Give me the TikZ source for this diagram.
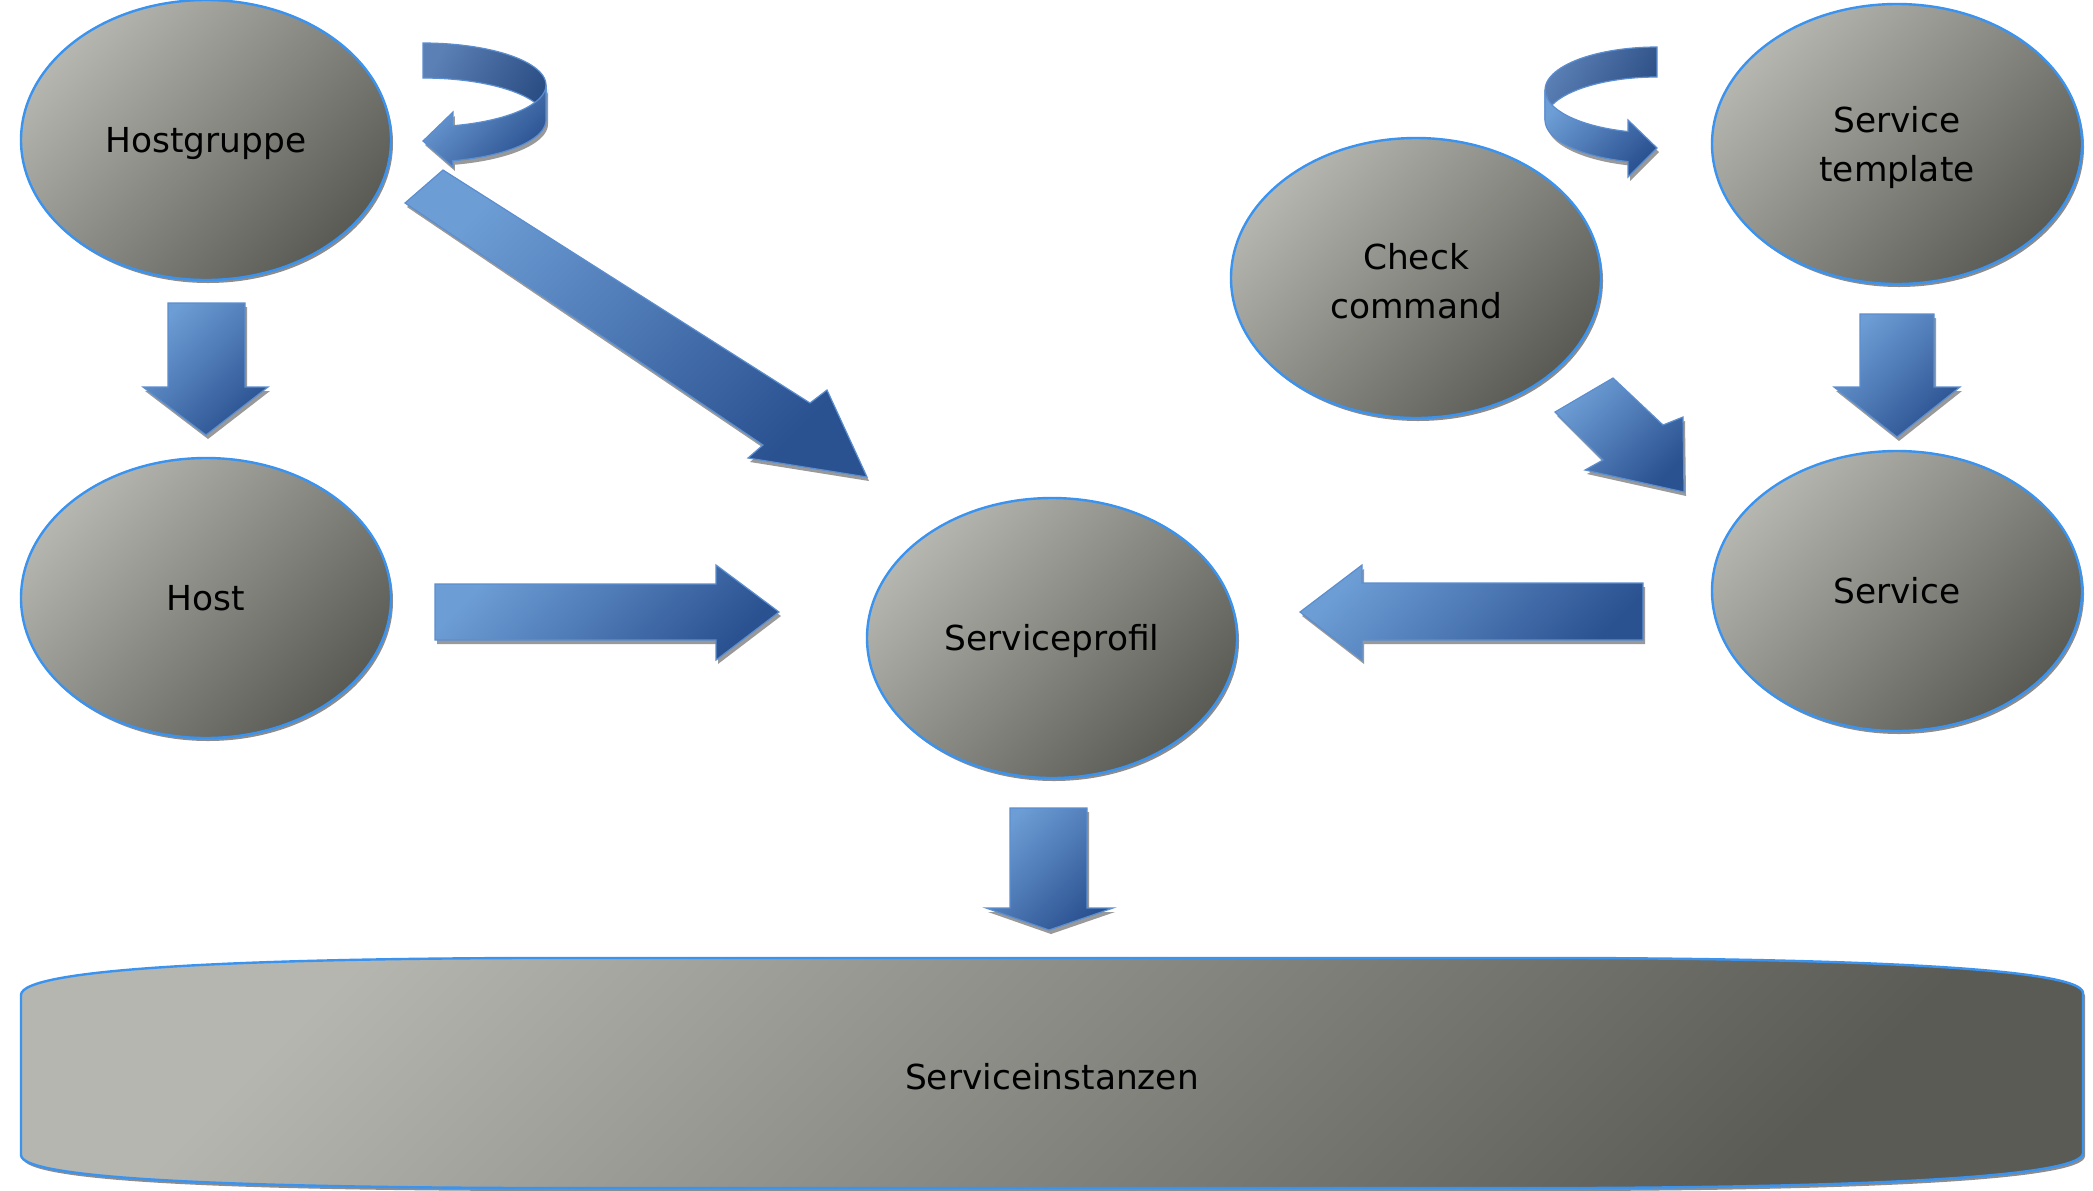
\documentclass[tikz,border=0pt]{standalone}
\usepackage{fontspec}
\setmainfont{DejaVu Sans}
\usetikzlibrary{shapes.geometric,shadows}
\definecolor{ellLight}{HTML}{B4B6AF}
\definecolor{ellDark}{HTML}{595B54}
\definecolor{ellLine}{HTML}{3B93F0}
\definecolor{arrLight}{HTML}{6D9DD5}
\definecolor{arrDark}{HTML}{2A5190}
\definecolor{arrLine}{HTML}{5B8ED0}
\definecolor{backLight}{HTML}{5B80B6}
\definecolor{backDark}{HTML}{2B4E84}
\begin{document}
\begin{tikzpicture}[x=0.5pt,y=-0.5pt,
        obj/.style={ellipse,draw=ellLine,line width=1.2pt,minimum width=185pt,minimum height=140pt,
            inner sep=0pt,align=center,top color=ellLight,bottom color=ellDark,shading angle=45,
            drop shadow={shadow xshift=1pt,shadow yshift=-1.5pt,fill=black!45,opacity=1},
            font=\fontsize{17.2}{24.5}\selectfont,text height=14pt,text depth=2pt},
        twolines/.style={text height=,text depth=},
        blockarrow/.style={draw=arrLine,line width=0.6pt,top color=arrLight,bottom color=arrDark,shading angle=45,
            drop shadow={shadow xshift=1pt,shadow yshift=-2pt,fill=black!40,opacity=1}},
        backband/.style={draw=arrLine,line width=0.6pt,top color=backLight,bottom color=backDark,shading angle=60}]
    \useasboundingbox (0,0) rectangle (2093,1190);
    % objects
    \node[obj] (hostgruppe) at (206,140) {Hostgruppe};
    \node[obj] (host) at (206,598) {Host};
    \node[obj] (profil) at (1052,638) {Serviceprofil};
    \node[obj,twolines] (check) at (1416,278) {\rule{0pt}{16.5pt}Check\\command};
    \node[obj,twolines] (template) at (1897,144) {\rule{0pt}{16.5pt}Service\\template};
    \node[obj] (service) at (1897,591) {Service};
    % instances
    \draw[draw=ellLine,line width=1.2pt,top color=ellLight,bottom color=ellDark,shading angle=45,
            drop shadow={shadow xshift=1pt,shadow yshift=-1.5pt,fill=black!45,opacity=1}]
        (21,995) .. controls (21,968) and (250,959) .. (520,958) -- (1580,958)
        .. controls (1850,959) and (2083,968) .. (2083,993) -- (2083,1153)
        .. controls (2083,1178) and (1850,1187) .. (1580,1188) -- (520,1188)
        .. controls (250,1187) and (21,1180) .. (21,1155) -- cycle;
    \node[font=\fontsize{17.2}{24.5}\selectfont,text height=14pt,text depth=2pt] (instanzen) at (1052,1077) {Serviceinstanzen};
    % block arrows
    \draw[blockarrow] (168,303) -- (245,303) -- (245,387) -- (268,387) -- (206,435) -- (143,387) -- (168,387) -- cycle;
    \draw[blockarrow] (405,203) -- (443,170) -- (810,403) -- (827,390) -- (867,477) -- (748,458) -- (763,445) -- cycle;
    \draw[blockarrow] (435,584) -- (716,584) -- (716,565) -- (779,612) -- (716,660) -- (716,640) -- (435,640) -- cycle;
    \draw[blockarrow] (1643,583) -- (1362,583) -- (1362,565) -- (1300,612) -- (1362,660) -- (1362,640) -- (1643,640) -- cycle;
    \draw[blockarrow] (1860,314) -- (1934,314) -- (1934,387) -- (1960,387) -- (1897,437) -- (1834,387) -- (1860,387) -- cycle;
    \draw[blockarrow] (1555,412) -- (1613,378) -- (1663,425) -- (1683,417) -- (1684,492) -- (1585,470) -- (1603,460) -- cycle;
    \draw[blockarrow] (1010,808) -- (1087,808) -- (1087,908) -- (1113,908) -- (1049,930) -- (986,908) -- (1010,908) -- cycle;
    % loops
    \draw[backband] plot[domain=90:0,samples=30,variable=\t] ({423+123*cos(\t)},{85-42*sin(\t)})
        -- plot[domain=0:90,samples=30,variable=\t] ({423+123*cos(\t)},{120-42*sin(\t)}) -- cycle;
    \draw[blockarrow] plot[domain=0:-76,samples=30,variable=\t] ({423+123*cos(\t)},{85-42*sin(\t)})
        -- (453,112) -- (423,141) -- (453,167)
        -- plot[domain=-76:0,samples=30,variable=\t] ({423+123*cos(\t)},{120-42*sin(\t)}) -- cycle;
    \draw[backband] plot[domain=90:180,samples=30,variable=\t] ({1657+112*cos(\t)},{90-43*sin(\t)})
        -- plot[domain=180:90,samples=30,variable=\t] ({1657+112*cos(\t)},{120-43*sin(\t)}) -- cycle;
    \draw[blockarrow] plot[domain=180:255,samples=30,variable=\t] ({1657+112*cos(\t)},{90-43*sin(\t)})
        -- (1628,120) -- (1657,148) -- (1628,177)
        -- plot[domain=255:180,samples=30,variable=\t] ({1657+112*cos(\t)},{120-43*sin(\t)}) -- cycle;
\end{tikzpicture}
\end{document}
